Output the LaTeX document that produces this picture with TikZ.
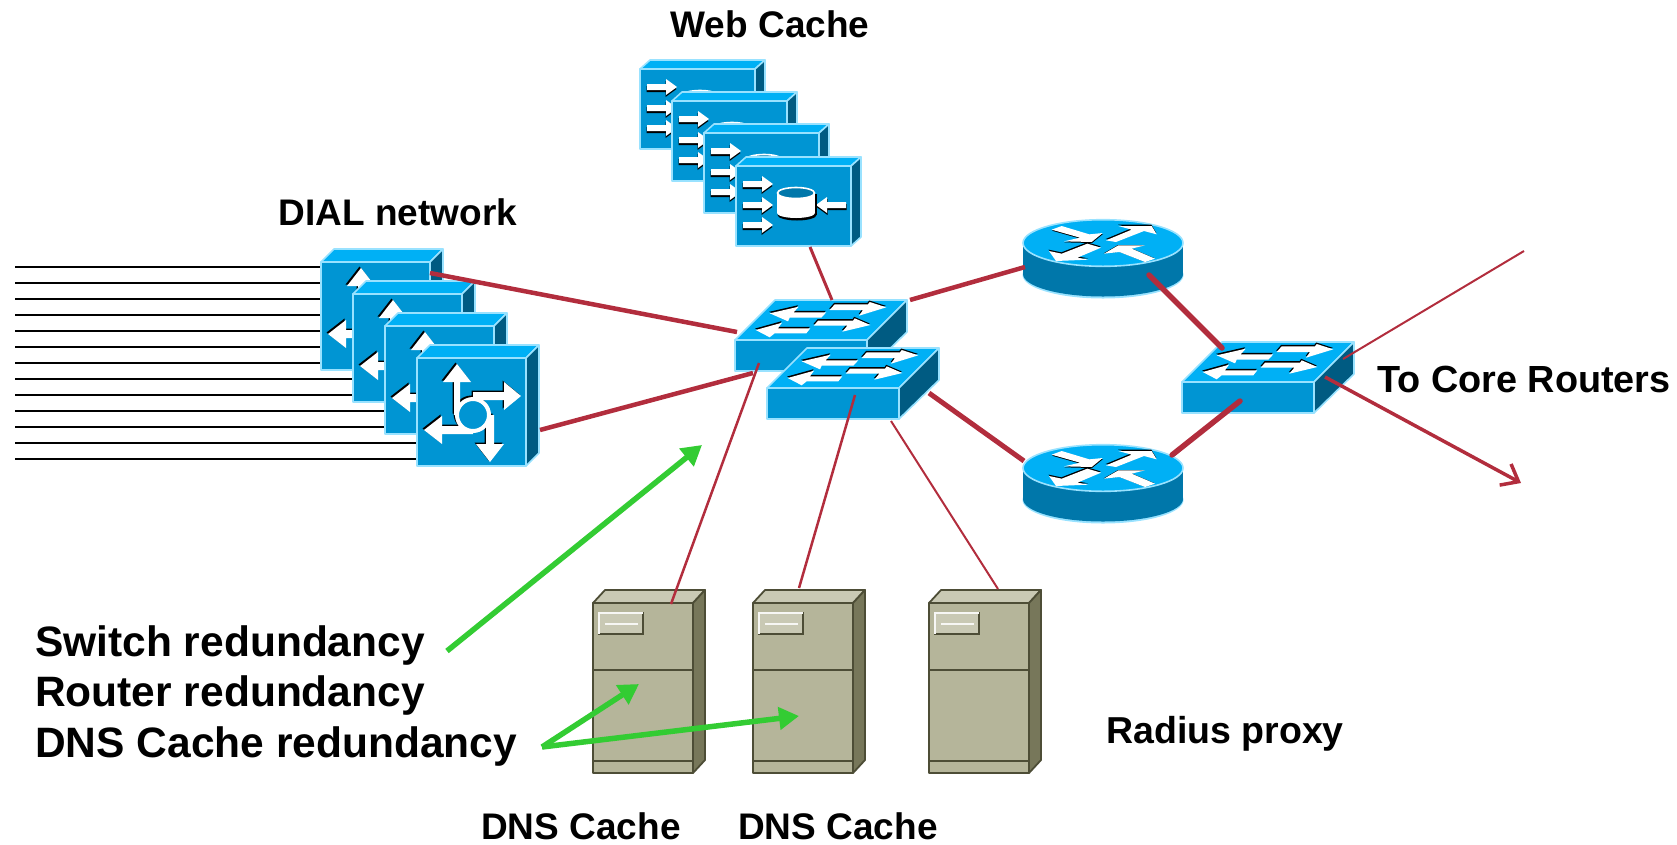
\documentclass[tikz,border=0pt]{standalone}
\usepackage{fontspec}
\setmainfont{Liberation Sans}
\usetikzlibrary{arrows,arrows.meta}
\definecolor{boxfront}{HTML}{0095D3}
\definecolor{boxtop}{HTML}{00B0F5}
\definecolor{boxside}{HTML}{005B82}
\definecolor{boxedge}{HTML}{99E2FF}
\definecolor{diskside}{HTML}{0077AA}
\definecolor{srvfront}{HTML}{B5B59A}
\definecolor{srvtop}{HTML}{C9C9B4}
\definecolor{srvside}{HTML}{77775A}
\definecolor{srvedge}{HTML}{4D4D36}
\definecolor{linkred}{HTML}{B22D3D}
\definecolor{notegreen}{HTML}{33CC33}
\newcommand{\shadowpoly}[2]{\fill[black,shift={#1}] #2 -- cycle; \fill[white] #2 -- cycle;}
\tikzset{
  facefront/.style={fill=boxfront,draw=boxedge,line width=1.6pt,line join=round},
  facetop/.style={fill=boxtop,draw=boxedge,line width=1.6pt,line join=round},
  faceside/.style={fill=boxside,draw=boxedge,line width=1.6pt,line join=round},
  srvface/.style={draw=srvedge,line width=1.8pt,line join=round},
  thinlink/.style={linkred,line width=2pt},
  midlink/.style={linkred,line width=3pt},
  widelink/.style={linkred,line width=4.5pt},
  thicklink/.style={linkred,line width=5.5pt,line cap=round},
  notearrow/.style={notegreen,line width=5.5pt,-{Triangle[length=20pt,width=22pt]}},
  smalllabel/.style={font=\bfseries\fontsize{37}{40}\selectfont,anchor=center,inner sep=0pt},
  biglabel/.style={font=\bfseries\fontsize{42.5}{46}\selectfont,anchor=west,inner sep=0pt},
  cacheicon/.pic={
    \path[facefront] (0,0) rectangle (115,80);
    \path[facetop] (0,0) -- (10,-9) -- (125,-9) -- (115,0) -- cycle;
    \path[faceside] (115,0) -- (125,-9) -- (125,71) -- (115,80) -- cycle;
    \foreach \ypos in {18,39,59} {
      \begin{scope}[shift={(7,\ypos)}]
        \shadowpoly{(-0.5,2)}{(0,-3) -- (19,-3) -- (19,-8) -- (30,0) -- (19,8) -- (19,3) -- (0,3)}
      \end{scope}
    }
    \begin{scope}[shift={(110,39)},xscale=-1]
      \shadowpoly{(-0.5,2)}{(0,-3) -- (19,-3) -- (19,-8) -- (30,0) -- (19,8) -- (19,3) -- (0,3)}
    \end{scope}
    \fill[black] (42,28) rectangle (80.5,49);
    \fill[black] (61,49) ellipse [x radius=19.5,y radius=5.5];
    \fill[white] (41,27) rectangle (79,47);
    \fill[white] (60,47) ellipse [x radius=19,y radius=5];
    \fill[diskside,draw=white,line width=1.6pt] (60,27) ellipse [x radius=18.5,y radius=5.5];
  },
  dialicon/.pic={
    \path[facefront] (0,0) rectangle (109,108);
    \path[facetop] (0,0) -- (13,-13) -- (122,-13) -- (109,0) -- cycle;
    \path[faceside] (109,0) -- (122,-13) -- (122,95) -- (109,108) -- cycle;
    \draw[black,line width=4pt] (54.5,55.5) circle [radius=16];
    \shadowpoly{(-1.5,-1.5)}{(40,6) -- (54,24) -- (43,24) -- (43,57) -- (37,57) -- (37,24) -- (26,24)}
    \shadowpoly{(-1.5,-1.5)}{(104,38) -- (87,52) -- (87,42) -- (56,42) -- (56,34) -- (87,34) -- (87,24)}
    \shadowpoly{(-1.5,-1.5)}{(7,72) -- (25,58) -- (25,68) -- (56,68) -- (56,76) -- (25,76) -- (25,86)}
    \shadowpoly{(-1.5,-1.5)}{(73,104) -- (59,86) -- (69,86) -- (69,57) -- (77,57) -- (77,86) -- (87,86)}
    \draw[white,fill=boxfront,line width=4pt] (56,57) circle [radius=16];
  },
  switchicon/.pic={
    \path[facefront] (0,0) rectangle (132,31);
    \path[facetop] (0,0) -- (40,-40) -- (172,-40) -- (132,0) -- cycle;
    \path[faceside] (132,0) -- (172,-40) -- (172,-8) -- (132,31) -- cycle;
    \shadowpoly{(-0.5,-1.5)}{(34.7,-26.7) -- (63.7,-33.3) -- (58.7,-27.7) -- (91.3,-27.7) -- (86.3,-22.3) -- (54.7,-22.3) -- (53,-18.7)}
    \shadowpoly{(-0.5,-1.5)}{(151.3,-32.7) -- (134.7,-38) -- (133,-35.7) -- (99.7,-35.7) -- (94.7,-30) -- (128,-30) -- (124,-24.3)}
    \shadowpoly{(-0.5,-1.5)}{(20.7,-10) -- (47,-17.3) -- (43,-11.7) -- (75.3,-11.7) -- (71.3,-6.7) -- (39.7,-6.7) -- (34.7,-2.7)}
    \shadowpoly{(-0.5,-1.5)}{(135.3,-15) -- (119.7,-21.7) -- (118,-19.3) -- (83,-19.3) -- (78.7,-14.3) -- (112.3,-14.3) -- (107.3,-8.3)}
  },
  routericon/.pic={
    \fill[boxedge] (0,32) ellipse [x radius=80.5,y radius=23.5];
    \fill[diskside] (0,31) ellipse [x radius=80,y radius=22.5];
    \fill[diskside] (-80,0) rectangle (80,31);
    \path[facetop] (0,0) ellipse [x radius=80,y radius=23.3];
    \begin{scope}[scale=0.3333,shift={(-309,-98)}]
      \shadowpoly{(1,3)}{(155,58) -- (185,47) -- (268,72) -- (308,68) -- (275,95) -- (192,93) -- (240,82)}
      \shadowpoly{(-1,-4)}{(318,90) -- (395,58) -- (355,47) -- (455,47) -- (470,72) -- (432,62) -- (348,95)}
      \shadowpoly{(-1,-4)}{(262,100) -- (303,112) -- (232,142) -- (265,148) -- (168,152) -- (147,122) -- (185,130)}
      \shadowpoly{(-1,-1)}{(312,130) -- (355,105) -- (435,105) -- (395,115) -- (465,145) -- (435,155) -- (358,125)}
    \end{scope}
  },
  servericon/.pic={
    \path[srvface,fill=srvfront] (0,0) rectangle (100,170);
    \path[srvface,fill=srvtop] (0,0) -- (12,-13) -- (112,-13) -- (100,0) -- cycle;
    \path[srvface,fill=srvside] (100,0) -- (112,-13) -- (112,157) -- (100,170) -- cycle;
    \draw[srvedge,line width=1.8pt] (0,67) -- (100,67);
    \draw[srvedge,line width=1.8pt] (0,158) -- (100,158);
    \fill[srvtop,draw=srvedge,line width=1.4pt] (6,10) rectangle (50,31);
    \draw[white!85!srvtop,line width=1.2pt] (6,31) -- (6,10) -- (50,10);
    \draw[white!85!srvtop,line width=1.2pt] (12,21) -- (45,21);
  }
}
\begin{document}
\begin{tikzpicture}[x=1pt,y=-1pt]
\useasboundingbox (0,0) rectangle (1677,844);

\foreach \i in {0,...,12} {
  \coordinate (inL\i) at (15,267.3+16*\i);
  \coordinate (inR\i) at (430,267.3+16*\i);
  \draw[black,line width=2pt] (inL\i) -- (inR\i);
}

\pic (cache1) at (640,69) {cacheicon};
\pic (cache2) at (672,101) {cacheicon};
\pic (cache3) at (704,133) {cacheicon};
\pic (cache4) at (736,166) {cacheicon};

\pic (dial1) at (321,262) {dialicon};
\pic (dial2) at (353,294) {dialicon};
\pic (dial3) at (385,326) {dialicon};
\pic (dial4) at (417,358) {dialicon};

\pic (sw1) at (735,340) {switchicon};
\pic (sw2) at (767,388) {switchicon};
\pic (sw3) at (1182,382) {switchicon};

\pic (rt1) at (1103,243) {routericon};
\pic (rt2) at (1103,468) {routericon};

\pic (srv1) at (593,603) {servericon};
\pic (srv2) at (753,603) {servericon};
\pic (srv3) at (929,603) {servericon};

% link ends
\coordinate (dialA) at (430,273);
\coordinate (dialB) at (540,430);
\coordinate (swA) at (737,332);
\coordinate (swB) at (753,373);
\coordinate (cacheEnd) at (810,247);
\coordinate (swTop) at (832,300);
\coordinate (swC) at (910,300);
\coordinate (rtA) at (1025,267);
\coordinate (rtB) at (1149,275);
\coordinate (coreA) at (1222,348);
\coordinate (swD) at (929,393);
\coordinate (rtC) at (1024,461);
\coordinate (coreB) at (1240,401);
\coordinate (rtD) at (1172,455);
\coordinate (coreC) at (1343,359);
\coordinate (outA) at (1524,251);
\coordinate (coreD) at (1325,377);
\coordinate (outB) at (1521,483);
\coordinate (swE) at (759,363);
\coordinate (srvA) at (671,604);
\coordinate (swF) at (855,395);
\coordinate (srvB) at (799,588);
\coordinate (swG) at (891,421);
\coordinate (srvC) at (998,589);

\draw[widelink] (dialA) -- (swA);
\draw[widelink] (dialB) -- (swB);
\draw[midlink] (cacheEnd) -- (swTop);
\draw[widelink] (swC) -- (rtA);
\draw[thicklink] (rtB) -- (coreA);
\draw[widelink,line width=5pt] (swD) -- (rtC);
\draw[thicklink] (coreB) -- (rtD);
\draw[thinlink] (coreC) -- (outA);
\draw[midlink,line width=3.5pt,-{Straight Barb[length=15pt,width=24pt]}] (coreD) -- (outB);
\draw[midlink,line width=2.5pt] (swE) -- (srvA);
\draw[midlink,line width=2.5pt] (swF) -- (srvB);
\draw[thinlink] (swG) -- (srvC);

\node[smalllabel] (webLabel) at (770,24) {Web Cache};
\node[smalllabel] (dialLabel) at (398,212) {DIAL network};
\node[smalllabel,font=\bfseries\fontsize{37.8}{40}\selectfont] (coreLabel) at (1524,379) {To Core Routers};
\node[smalllabel,font=\bfseries\fontsize{37.5}{40}\selectfont] (radiusLabel) at (1225,733.5) {Radius proxy};
\node[smalllabel] (dnsLabelA) at (581,826) {DNS Cache};
\node[smalllabel] (dnsLabelB) at (838,826) {DNS Cache};
\node[biglabel] (switchNote) at (35,645) {Switch redundancy};
\node[biglabel] (routerNote) at (35,695) {Router redundancy};
\node[biglabel] (dnsNote) at (35,746) {DNS Cache redundancy};

\coordinate (noteA) at (447,651);
\coordinate (noteB) at (702,445);
\coordinate (noteC) at (542,747);
\coordinate (noteD) at (639,684);
\coordinate (noteE) at (799,716);
\draw[notearrow] (noteA) -- (noteB);
\draw[notearrow] (noteC) -- (noteD);
\draw[notearrow] (noteC) -- (noteE);
\end{tikzpicture}
\end{document}
